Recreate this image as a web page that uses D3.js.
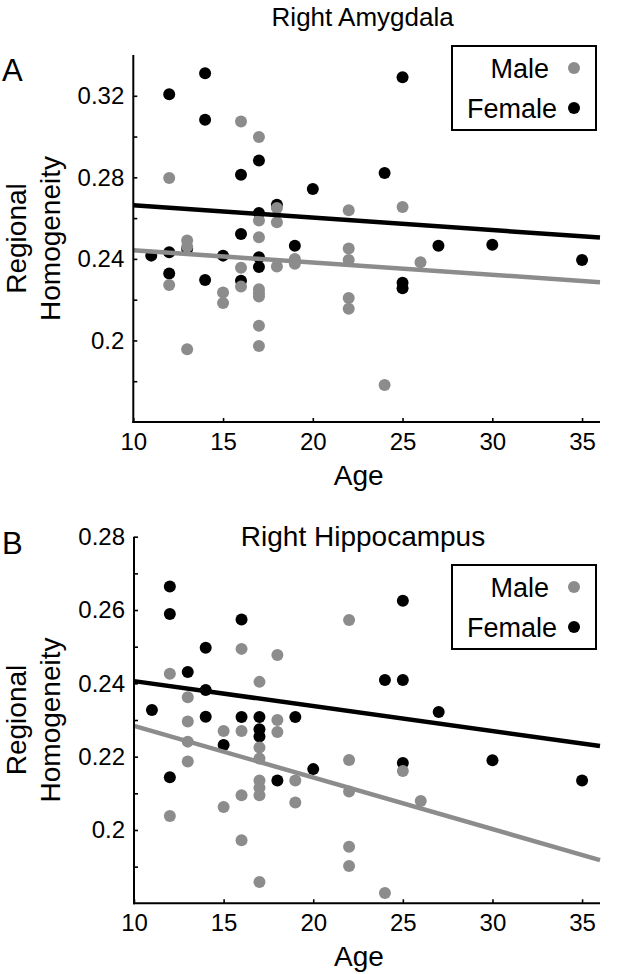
<!DOCTYPE html>
<html><head><meta charset="utf-8">
<script src="https://cdn.jsdelivr.net/npm/d3@7"></script>
<style>
body{margin:0;background:#fff}
svg text{font-family:"Liberation Sans",Arial,Helvetica,sans-serif;fill:#000}
</style>
</head><body>
<svg id="chart" width="624" height="974"></svg>
<script>
// ---------- data ----------
const ageTicks = [10, 15, 20, 25, 30, 35];
const ageTickLabels = ["10", "15", "20", "25", "30", "35"];
const ageDomain = [10, 36];
const seriesNames = ["Male", "Female"];

// Panel A: Right Amygdala
const amyTickValues = [0.2, 0.24, 0.28, 0.32];
const amyTickLabels = ["0.2", "0.24", "0.28", "0.32"];
const amyMinorTicks = [0.18, 0.22, 0.26, 0.30];
const amyDomain = [0.16, 0.34];
const amyMaleAge = [12, 12, 13, 13, 13, 15, 15, 16, 16, 16, 17, 17, 17, 17, 17, 17, 17, 17, 18, 18, 18, 19, 19, 22, 22, 22, 22, 22, 24, 25, 26];
const amyMaleVal = [0.2797, 0.2272, 0.249, 0.246, 0.1957, 0.2235, 0.2184, 0.3074, 0.2357, 0.2264, 0.2998, 0.2588, 0.2506, 0.2251, 0.2232, 0.2216, 0.2072, 0.1973, 0.265, 0.258, 0.2363, 0.24, 0.2376, 0.2638, 0.2451, 0.2395, 0.2208, 0.2155, 0.1781, 0.2655, 0.2384];
const amyFemaleAge = [11, 12, 12, 12, 13, 14, 14, 14, 15, 16, 16, 16, 17, 17, 17, 17, 18, 19, 20, 24, 25, 25, 25, 27, 30, 35];
const amyFemaleVal = [0.2416, 0.3208, 0.2432, 0.2328, 0.245, 0.3311, 0.3082, 0.2296, 0.2416, 0.2813, 0.2522, 0.2293, 0.2882, 0.2625, 0.2408, 0.236, 0.2666, 0.2464, 0.2743, 0.2821, 0.3291, 0.2283, 0.2256, 0.2464, 0.2469, 0.2395];
const amyFitAges = [10, 36];
const amyMaleFit = [0.2442, 0.2286];
const amyFemaleFit = [0.2663, 0.2505];

// Panel B: Right Hippocampus
const hipTickValues = [0.2, 0.22, 0.24, 0.26, 0.28];
const hipTickLabels = ["0.2", "0.22", "0.24", "0.26", "0.28"];
const hipMinorTicks = [0.19, 0.21, 0.23, 0.25, 0.27];
const hipDomain = [0.18, 0.28];
const hipMaleAge = [12, 12, 13, 13, 13, 13, 15, 15, 16, 16, 16, 16, 17, 17, 17, 17, 17, 17, 17, 18, 18, 18, 19, 19, 22, 22, 22, 22, 22, 24, 25, 26];
const hipMaleVal = [0.2426, 0.2038, 0.2362, 0.2296, 0.2241, 0.2187, 0.227, 0.2063, 0.2494, 0.227, 0.2095, 0.1972, 0.2404, 0.2225, 0.2195, 0.2135, 0.2115, 0.2095, 0.1858, 0.2477, 0.23, 0.2267, 0.2135, 0.2075, 0.2573, 0.2191, 0.2105, 0.1954, 0.1902, 0.1828, 0.2161, 0.2079];
const hipFemaleAge = [11, 12, 12, 12, 13, 14, 14, 14, 15, 16, 16, 17, 17, 17, 18, 19, 20, 24, 25, 25, 25, 27, 30, 35];
const hipFemaleVal = [0.2327, 0.2664, 0.2589, 0.2144, 0.2431, 0.2497, 0.2382, 0.2309, 0.2232, 0.2574, 0.2308, 0.2308, 0.2275, 0.2255, 0.2135, 0.2308, 0.2166, 0.2409, 0.2625, 0.2409, 0.2183, 0.2322, 0.219, 0.2135];
const hipFitAges = [10, 36];
const hipMaleFit = [0.2284, 0.1918];
const hipFemaleFit = [0.2406, 0.2229];

// ---------- drawing ----------
const svg = d3.select("#chart");
const GRAY = "#8c8c8c", BLACK = "#000";
const FONT = '"Liberation Sans",Arial,Helvetica,sans-serif';

function drawPanel(o) {
  const g = svg.append("g");
  const x = d3.scaleLinear().domain(ageDomain).range([o.left, o.right]);
  const y = d3.scaleLinear().domain(o.yDomain).range([o.bottom, o.top]);

  // points: female first, male on top
  const fem = o.femaleAge.map((a, i) => ({a, v: o.femaleVal[i]}));
  const mal = o.maleAge.map((a, i) => ({a, v: o.maleVal[i]}));
  g.append("g").selectAll("circle").data(fem).join("circle")
    .attr("cx", d => x(d.a)).attr("cy", d => y(d.v)).attr("r", 6).attr("fill", BLACK);
  g.append("g").selectAll("circle").data(mal).join("circle")
    .attr("cx", d => x(d.a)).attr("cy", d => y(d.v)).attr("r", 6).attr("fill", GRAY);

  // fit lines
  const line = d3.line().x(d => x(d[0])).y(d => y(d[1]));
  g.append("path").attr("d", line(o.fitAges.map((a, i) => [a, o.maleFit[i]])))
    .attr("stroke", GRAY).attr("stroke-width", 4.5).attr("fill", "none");
  g.append("path").attr("d", line(o.fitAges.map((a, i) => [a, o.femaleFit[i]])))
    .attr("stroke", BLACK).attr("stroke-width", 4.5).attr("fill", "none");

  // y axis
  const allY = o.yTicks.concat(o.yMinor).sort((a, b) => a - b);
  const yAxis = d3.axisLeft(y).tickValues(allY)
    .tickFormat(d => { const i = o.yTicks.findIndex(t => Math.abs(t - d) < 1e-9); return i >= 0 ? o.yLabels[i] : ""; })
    .tickSize(-4).tickSizeOuter(0).tickPadding(9);
  const ya = g.append("g").attr("transform", `translate(${o.left},0)`).call(yAxis);
  // x axis
  const xAxis = d3.axisBottom(x).tickValues(ageTicks)
    .tickFormat((d, i) => ageTickLabels[i])
    .tickSize(-4).tickSizeOuter(0).tickPadding(11);
  const xa = g.append("g").attr("transform", `translate(0,${o.bottom})`).call(xAxis);
  [ya, xa].forEach(a => {
    a.select(".domain").attr("stroke", BLACK).attr("stroke-width", 2);
    a.selectAll(".tick line").attr("stroke", BLACK).attr("stroke-width", 1.6);
    a.selectAll(".tick text").attr("font-size", 24).attr("font-family", FONT).attr("fill", BLACK);
  });
  ya.select(".domain").attr("d", `M0,${o.bottom + 1}V${o.top}`);
  xa.select(".domain").attr("d", `M${o.left - 1},0H${o.right}`);

  // axis labels
  const cx = (o.left + o.right) / 2 - 8;
  g.append("text").attr("x", cx).attr("y", o.bottom + 63).attr("text-anchor", "middle")
    .attr("font-size", 28).text("Age");
  const cy = (o.top + o.bottom) / 2;
  g.append("text").attr("transform", `translate(26,${cy}) rotate(-90)`).attr("text-anchor", "middle")
    .attr("font-size", 28).text("Regional");
  g.append("text").attr("transform", `translate(60,${cy}) rotate(-90)`).attr("text-anchor", "middle")
    .attr("font-size", 28).text("Homogeneity");

  // title & panel letter
  g.append("text").attr("x", cx + 4).attr("y", o.titleY).attr("text-anchor", "middle")
    .attr("font-size", o.titleSize).text(o.title);
  g.append("text").attr("x", 2).attr("y", o.letterY).attr("font-size", 31).text(o.letter);

  // legend
  const L = o.legend;
  g.append("rect").attr("x", L.x).attr("y", L.y).attr("width", L.w).attr("height", L.h)
    .attr("fill", "#fff").attr("stroke", BLACK).attr("stroke-width", 2);
  const legColors = [GRAY, BLACK];
  seriesNames.forEach((name, i) => {
    const yy = L.y + 22 + i * 40;
    g.append("text").attr("x", L.textX[i]).attr("y", yy + 10).attr("text-anchor", "end")
      .attr("font-size", 27).text(name);
    g.append("circle").attr("cx", L.x + L.w - 22).attr("cy", yy).attr("r", 6).attr("fill", legColors[i]);
  });
}

drawPanel({
  left: 133.3, right: 600, top: 55, bottom: 422,
  yDomain: amyDomain, yTicks: amyTickValues, yLabels: amyTickLabels, yMinor: amyMinorTicks,
  maleAge: amyMaleAge, maleVal: amyMaleVal, femaleAge: amyFemaleAge, femaleVal: amyFemaleVal,
  fitAges: amyFitAges, maleFit: amyMaleFit, femaleFit: amyFemaleFit,
  title: "Right Amygdala", titleY: 26, titleSize: 26, letter: "A", letterY: 81,
  legend: {x: 452, y: 46, w: 144, h: 84, textX: [549, 557]}
});
drawPanel({
  left: 134, right: 600, top: 536.7, bottom: 903.3,
  yDomain: hipDomain, yTicks: hipTickValues, yLabels: hipTickLabels, yMinor: hipMinorTicks,
  maleAge: hipMaleAge, maleVal: hipMaleVal, femaleAge: hipFemaleAge, femaleVal: hipFemaleVal,
  fitAges: hipFitAges, maleFit: hipMaleFit, femaleFit: hipFemaleFit,
  title: "Right Hippocampus", titleY: 546, titleSize: 28, letter: "B", letterY: 554,
  legend: {x: 452, y: 565, w: 144, h: 84, textX: [549, 557]}
});
</script>
</body></html>
